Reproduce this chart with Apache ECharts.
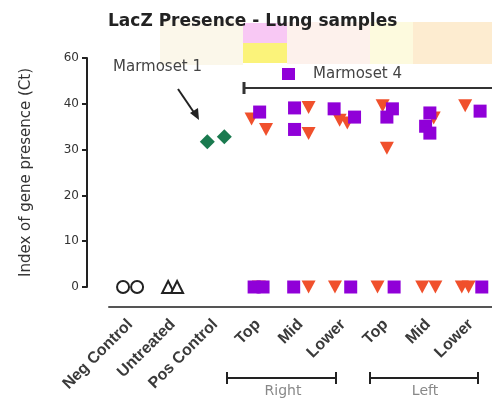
<!DOCTYPE html>
<html><head><meta charset="utf-8">
<script src="https://cdn.jsdelivr.net/npm/echarts@6/dist/echarts.min.js"></script>
<style>html,body{margin:0;padding:0;background:#fff}#c{width:492px;height:401px}</style>
</head><body><div id="c"></div>
<script>
const categories = ['Neg Control','Untreated','Pos Control','Top','Mid','Lower','Top','Mid','Lower'];
const yTickLabels = ['0','10','20','30','40','60'];
// [category index, Ct value, horizontal jitter in category units]
const negControl = [[0,0,-0.17],[0,0,0.16]];
const untreated = [[1,0,-0.11],[1,0,0.1]];
const posControl = [[2,31.7,-0.19],[2,32.8,0.21]];
const marmoset4 = [
  [3,38.2,0.04],[3,0,-0.09],[3,0,0.12],
  [4,39.1,-0.14],[4,34.4,-0.14],[4,0,-0.16],
  [5,38.9,-0.21],[5,37.1,0.27],[5,0,0.18],
  [6,38.9,0.16],[6,37.1,0.03],[6,0,0.2],
  [7,38.0,0.04],[7,35.1,-0.06],[7,33.6,0.04],
  [8,38.4,0.22],[8,0,0.26]
];
const marmosetOther = [
  [3,36.7,-0.15],[3,34.4,0.19],[3,0,0.02],
  [4,39.2,0.19],[4,33.5,0.19],[4,0,0.19],
  [5,36.4,-0.08],[5,35.8,0.1],[5,0,-0.19],
  [6,39.6,-0.07],[6,30.3,0.03],[6,0,-0.19],
  [7,36.9,0.13],[7,0,-0.14],[7,0,0.17],
  [8,39.6,-0.13],[8,0,-0.21],[8,0,-0.05]
];
const toXY = arr => arr.map(d => [d[0] + d[2], d[1]]);

const chart = echarts.init(document.getElementById('c'), null, {renderer:'canvas'});
const txt = '#333';
const F = 'DejaVu Sans';
const wash = (x,y,w,h,c) => ({type:'rect', z:-10, shape:{x:x,y:y,width:w,height:h}, style:{fill:c}});
const label = (x,y,text,font,fill,align) => ({type:'text', x:x, y:y,
  style:{text:text, font:font, fill:fill, align:align||'left', verticalAlign:'middle'}});
chart.setOption({
  animation:false,
  grid:{left:109, top:58, width:387, height:229},
  xAxis:[
    {type:'category', data:categories, position:'bottom', offset:20,
     axisLine:{onZero:false, lineStyle:{color:'#555', width:2}},
     axisTick:{alignWithLabel:true, length:4, lineStyle:{color:'#555', width:2}},
     axisLabel:{rotate:45, fontSize:16, fontWeight:'bold', color:'#3a3a3a', margin:15, fontFamily:'Liberation Sans'},
     splitLine:{show:false}},
    {type:'value', min:-0.5, max:8.5, show:false, axisLine:{onZero:false}}
  ],
  yAxis:{type:'value', min:0, max:50, interval:10, offset:22,
    axisLine:{show:true, onZero:false, lineStyle:{color:'#222', width:2}},
    axisTick:{show:true, length:5, lineStyle:{color:'#222', width:2}},
    axisLabel:{fontSize:12, color:txt, margin:8, fontFamily:F,
      formatter:(v)=> yTickLabels[Math.round(v/10)]},
    splitLine:{show:false},
    name:'Index of gene presence (Ct)', nameLocation:'middle', nameGap:53,
    nameTextStyle:{fontSize:15, color:txt, fontFamily:F}
  },
  series:[
    {type:'scatter', xAxisIndex:1, data:toXY(negControl), symbol:'circle', symbolSize:12,
     itemStyle:{color:'#fff', borderColor:'#222', borderWidth:2, opacity:1}},
    {type:'scatter', xAxisIndex:1, data:toXY(untreated), symbol:'triangle', symbolSize:12,
     itemStyle:{color:'#fff', borderColor:'#222', borderWidth:2, opacity:1}},
    {type:'scatter', xAxisIndex:1, data:toXY(posControl), symbol:'diamond', symbolSize:[15,15],
     itemStyle:{color:'#1a7a4f', opacity:1}},
    {type:'scatter', xAxisIndex:1, data:toXY(marmosetOther), symbol:'triangle', symbolRotate:180, symbolSize:[14,13],
     itemStyle:{color:'#f0502c', opacity:1}},
    {type:'scatter', xAxisIndex:1, data:toXY(marmoset4), symbol:'rect', symbolSize:13,
     itemStyle:{color:'#9000d8', opacity:1}}
  ],
  graphic:[
    wash(160,20,83,45,'#fbf7ea'),
    wash(243,23,44,20,'#f8c8f4'),
    wash(243,43,44,20,'#fbf37a'),
    wash(287,22,83,42,'#fdf1ec'),
    wash(370,22,43,42,'#fdfade'),
    wash(413,22,79,42,'#fdecd0'),
    label(108,22,'LacZ Presence - Lung samples','bold 17px '+F,'#222'),
    label(113,67,'Marmoset 1','15px '+F,'#444'),
    {type:'line', shape:{x1:178,y1:89,x2:195,y2:114}, style:{stroke:'#222', lineWidth:2}},
    {type:'polygon', shape:{points:[[199,120],[190,113],[198,108]]}, style:{fill:'#222'}},
    {type:'rect', shape:{x:282,y:68,width:13,height:12}, style:{fill:'#9000d8'}},
    label(313,74,'Marmoset 4','15px '+F,'#444'),
    {type:'line', shape:{x1:244,y1:88,x2:492,y2:88}, style:{stroke:'#333', lineWidth:2}},
    {type:'line', shape:{x1:244,y1:82,x2:244,y2:94}, style:{stroke:'#333', lineWidth:3}},
    {type:'line', shape:{x1:227,y1:378,x2:336,y2:378}, style:{stroke:'#222', lineWidth:2}},
    {type:'line', shape:{x1:227,y1:372,x2:227,y2:384}, style:{stroke:'#222', lineWidth:2}},
    {type:'line', shape:{x1:336,y1:372,x2:336,y2:384}, style:{stroke:'#222', lineWidth:2}},
    label(283,391,'Right','14px '+F,'#888','center'),
    {type:'line', shape:{x1:370,y1:378,x2:478,y2:378}, style:{stroke:'#222', lineWidth:2}},
    {type:'line', shape:{x1:370,y1:372,x2:370,y2:384}, style:{stroke:'#222', lineWidth:2}},
    {type:'line', shape:{x1:478,y1:372,x2:478,y2:384}, style:{stroke:'#222', lineWidth:2}},
    label(425,391,'Left','14px '+F,'#888','center')
  ]
});
</script></body></html>
